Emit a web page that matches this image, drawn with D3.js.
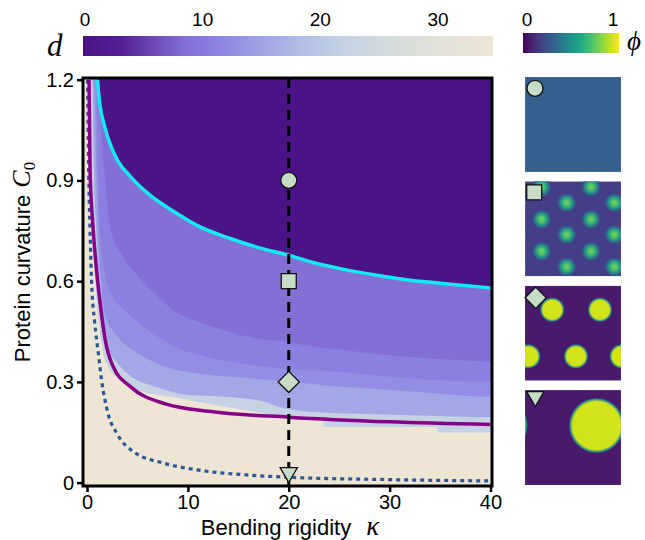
<!DOCTYPE html>
<html>
<head>
<meta charset="utf-8">
<script src="https://cdn.jsdelivr.net/npm/d3@7"></script>
<style>
  body { margin: 0; background: #fff; }
  text { font-family: "Liberation Sans", Arial, sans-serif; }
</style>
</head>
<body>
<div id="chart"></div>
<script>
// ---- data ----
var kappaTicks = [0, 10, 20, 30, 40];
var c0Ticks = [0, 0.3, 0.6, 0.9, 1.2];
var dTicks = [0, 10, 20, 30];
var phiTicks = [0, 1];

// colormap for d
var dStops  = [0, 3, 8.5, 11, 14, 18, 22, 27, 34.7];
var dColors = ["#4a1486", "#531f92", "#8470d5", "#8b80e0", "#9a9ce6", "#b0bce6", "#c4d2e4", "#d9dedb", "#eee5d5"];

// boundary lines (kappa, C0)
var cyanK = [1.0, 1.3, 1.8, 2.4, 3.1, 4.2, 5.1, 6.3, 7.6, 9, 10.9, 14.2, 17, 20, 22.5, 25, 29, 32, 35, 40];
var cyanC = [1.2, 1.12, 1.055, 1.0, 0.956, 0.915, 0.886, 0.855, 0.827, 0.8, 0.766, 0.727, 0.7, 0.677, 0.655, 0.638, 0.616, 0.603, 0.594, 0.58];

var purpleK = [0.2, 0.3, 0.55, 0.8, 1.05, 1.3, 1.8, 2.6, 4.3, 7.6, 12.5, 20, 30, 40];
var purpleC = [1.2, 0.93, 0.78, 0.68, 0.6, 0.534, 0.425, 0.345, 0.286, 0.236, 0.211, 0.195, 0.181, 0.173];

var dottedK = [0.05, 0.15, 0.3, 0.45, 0.75, 1.12, 1.42, 2.08, 2.95, 4.6, 7.6, 10.9, 15.8, 20, 30, 40];
var dottedC = [1.2, 0.95, 0.75, 0.6, 0.48, 0.385, 0.31, 0.206, 0.147, 0.092, 0.058, 0.038, 0.023, 0.016, 0.009, 0.005];

// heatmap bands: d value of each band and its upper edge (top to bottom)
var bandD = [8.5, 11, 12.5, 15.5, 22, 34.7];
var edge2K = [1.2, 1.5, 1.8, 2.3, 3.6, 5.4, 6.7, 8.7, 11, 14, 16.6, 19.6, 21.4, 25.4, 29.7, 36.7, 40];
var edge2C = [1.2, 1.0, 0.906, 0.757, 0.672, 0.603, 0.563, 0.51, 0.48, 0.45, 0.43, 0.42, 0.41, 0.395, 0.38, 0.365, 0.36];
var edge3K = [0.9, 1.1, 1.4, 1.8, 2.4, 4.07, 6.05, 8.7, 11.7, 15.3, 19.3, 25, 30, 35, 40];
var edge3C = [1.2, 0.9, 0.7, 0.62, 0.563, 0.504, 0.454, 0.405, 0.375, 0.355, 0.34, 0.33, 0.315, 0.305, 0.3];
var edge4K = [0.7, 0.9, 1.1, 1.4, 1.75, 3.07, 5.06, 7.7, 11, 14.3, 18.6, 25, 30, 35, 40];
var edge4C = [1.2, 0.95, 0.75, 0.6, 0.504, 0.434, 0.385, 0.345, 0.325, 0.315, 0.305, 0.286, 0.276, 0.265, 0.256];
var edge5K = [0.5, 0.7, 1.0, 1.2, 1.42, 2.0, 2.75, 4.4, 6.7, 10, 13.7, 17.6, 19, 22, 27, 33, 40];
var edge5C = [1.2, 0.9, 0.7, 0.55, 0.47, 0.4, 0.365, 0.315, 0.286, 0.261, 0.256, 0.241, 0.226, 0.211, 0.205, 0.2, 0.195];
var edge6K = [0.25, 0.35, 0.7, 1.0, 1.4, 2.08, 3.4, 5.4, 8.4, 12.7, 17.6, 20, 23.4, 23.5, 34.7, 34.8, 40];
var edge6C = [1.2, 0.9, 0.66, 0.53, 0.42, 0.345, 0.305, 0.271, 0.256, 0.231, 0.206, 0.19, 0.186, 0.166, 0.166, 0.149, 0.149];

// sampled states along kappa = 20
var stateNames = ["circle", "square", "diamond", "triangle"];
var stateKappa = 20;
var stateC0 = [0.9, 0.6, 0.3, 0.03];
var statePhiBg = [0.3, 0.18, 0.07, 0.07];
var statePhiSpot = [0.3, 0.8, 0.93, 0.93];
var stateSpotR = [0, 0.1, 0.13, 0.29];
var stateSpots = [
  [],
  [[0.174, 0.06], [0.688, 0.06], [-0.08, 0.225], [0.434, 0.225], [0.93, 0.225],
   [0.174, 0.4], [0.688, 0.4], [-0.08, 0.561], [0.434, 0.561], [0.93, 0.561],
   [0.174, 0.737], [0.688, 0.737], [-0.08, 0.9], [0.434, 0.9], [0.93, 0.9]],
  [[0.284, 0.253], [0.781, 0.253], [0.034, 0.744], [0.531, 0.744], [1.007, 0.744]],
  [[0.745, 0.374], [-0.26, 0.374]]
];

// ---- layout ----
var width = 645, height = 540;
var plot = {left: 83, top: 78, right: 492, bottom: 486};

var svg = d3.select("#chart").append("svg")
    .attr("width", width)
    .attr("height", height);
var defs = svg.append("defs");

var x = d3.scaleLinear().domain([-0.4, 40.15]).range([plot.left, plot.right]);
var y = d3.scaleLinear().domain([-0.01, 1.205]).range([plot.bottom, plot.top]);
var dColor = d3.scaleLinear().domain(dStops).range(dColors).interpolate(d3.interpolateRgb);

defs.append("clipPath").attr("id", "plotclip")
  .append("rect")
    .attr("x", plot.left).attr("y", plot.top)
    .attr("width", plot.right - plot.left).attr("height", plot.bottom - plot.top);

var g = svg.append("g").attr("clip-path", "url(#plotclip)");

// heatmap: d = 0 background then the bands stacked from the top
g.append("rect")
  .attr("x", plot.left).attr("y", plot.top)
  .attr("width", plot.right - plot.left).attr("height", plot.bottom - plot.top)
  .attr("fill", dColor(0));

var edges = [[cyanK, cyanC], [edge2K, edge2C], [edge3K, edge3C], [edge4K, edge4C], [edge5K, edge5C], [edge6K, edge6C]];
var bandArea = d3.area()
    .x(function(p) { return x(p[0]); })
    .y0(y(y.domain()[0]))
    .y1(function(p) { return y(p[1]); })
    .curve(d3.curveMonotoneX);

edges.forEach(function(e, i) {
  var pts = d3.zip(e[0], e[1]);
  pts.unshift([x.domain()[0], y.domain()[1]]);
  pts.push([x.domain()[1], e[1][e[1].length - 1]]);
  g.append("path")
    .attr("d", bandArea(pts))
    .attr("fill", dColor(bandD[i]));
});

// boundary lines
var line = d3.line()
    .x(function(p) { return x(p[0]); })
    .y(function(p) { return y(p[1]); })
    .curve(d3.curveMonotoneX);

g.append("path")
  .attr("d", line(d3.zip(dottedK, dottedC)))
  .attr("fill", "none").attr("stroke", "#285896")
  .attr("stroke-width", 3.2).attr("stroke-dasharray", "4,4");
g.append("path")
  .attr("d", line(d3.zip(purpleK, purpleC)))
  .attr("fill", "none").attr("stroke", "#870087").attr("stroke-width", 3.5);
g.append("path")
  .attr("d", line(d3.zip(cyanK, cyanC)))
  .attr("fill", "none").attr("stroke", "#14eaf2").attr("stroke-width", 3.5);

// dashed cut at kappa = 20
g.append("line")
  .attr("x1", x(stateKappa)).attr("x2", x(stateKappa))
  .attr("y1", y(y.domain()[1])).attr("y2", y(y.domain()[0]))
  .attr("stroke", "#000").attr("stroke-width", 3).attr("stroke-dasharray", "10,6");

// markers
var symbolTypes = [d3.symbolCircle, d3.symbolSquare, d3.symbolSquare, d3.symbolTriangle];
var symbolSizes = [201, 225, 225, 130];
var symbolRotate = [0, 0, 45, 180];
function marker(sel, i) {
  sel.attr("d", d3.symbol().type(symbolTypes[i]).size(symbolSizes[i])())
    .attr("fill", "#c6dcc6").attr("stroke", "#111").attr("stroke-width", 1.3);
}
stateNames.forEach(function(name, i) {
  svg.append("path")
    .call(marker, i)
    .attr("transform", "translate(" + x(stateKappa) + "," + y(stateC0[i]) + ") rotate(" + symbolRotate[i] + ")");
});

// axes
var yAxis = d3.axisLeft(y).tickValues(c0Ticks).tickSize(6).tickPadding(3)
    .tickFormat(function(d) { return d === 0 ? "0" : d3.format(".1f")(d); });
svg.append("g")
  .attr("transform", "translate(" + plot.left + ",0)")
  .call(yAxis)
  .call(function(a) { a.select(".domain").remove(); })
  .call(function(a) { a.selectAll(".tick line").attr("stroke-width", 2.5); })
  .call(function(a) { a.selectAll(".tick text").attr("font-family", "Liberation Sans, Arial, sans-serif").style("font-size", "20px").attr("fill", "#000"); });

var xAxis = d3.axisBottom(x).tickValues(kappaTicks).tickSize(6).tickPadding(3);
svg.append("g")
  .attr("transform", "translate(0," + plot.bottom + ")")
  .call(xAxis)
  .call(function(a) { a.select(".domain").remove(); })
  .call(function(a) { a.selectAll(".tick line").attr("stroke-width", 2.5); })
  .call(function(a) { a.selectAll(".tick text").attr("font-family", "Liberation Sans, Arial, sans-serif").style("font-size", "20px").attr("fill", "#000"); });

// frame
svg.append("rect")
  .attr("x", plot.left).attr("y", plot.top)
  .attr("width", plot.right - plot.left).attr("height", plot.bottom - plot.top)
  .attr("fill", "none").attr("stroke", "#000").attr("stroke-width", 3);

// axis labels
var xl = svg.append("text")
  .attr("x", 290).attr("y", 535)
  .attr("text-anchor", "middle")
  .style("font-size", "22px");
xl.append("tspan").text("Bending rigidity");
xl.append("tspan").attr("dx", 15)
  .style("font-family", "Liberation Serif, serif").style("font-style", "italic").style("font-size", "27px")
  .text("κ");

var yl = svg.append("text")
  .attr("transform", "translate(30,262) rotate(-90)")
  .attr("text-anchor", "middle")
  .style("font-size", "22px");
yl.append("tspan").text("Protein curvature");
yl.append("tspan").attr("dx", 7)
  .style("font-family", "Liberation Serif, serif").style("font-style", "italic").style("font-size", "26px")
  .text("C");
yl.append("tspan").attr("dy", 5)
  .style("font-family", "Liberation Serif, serif").style("font-size", "17px")
  .text("0");

// ---- colorbar for d ----
var dScale = d3.scaleLinear().domain([0, 30]).range([85, 438]);
var dBar = {x0: 83, x1: 493, y: 36, h: 20};
var dLo = dScale.invert(dBar.x0), dHi = dScale.invert(dBar.x1);
var dGrad = defs.append("linearGradient").attr("id", "dgrad")
  .attr("gradientUnits", "userSpaceOnUse")
  .attr("x1", dBar.x0).attr("x2", dBar.x1).attr("y1", 0).attr("y2", 0);
dStops.forEach(function(s, i) {
  dGrad.append("stop").attr("offset", (s - dLo) / (dHi - dLo)).attr("stop-color", dColors[i]);
});
svg.append("rect")
  .attr("x", dBar.x0).attr("y", dBar.y).attr("width", dBar.x1 - dBar.x0).attr("height", dBar.h)
  .attr("fill", "url(#dgrad)");
svg.selectAll(".dtick").data(dTicks).enter().append("text")
  .attr("x", function(d) { return dScale(d); }).attr("y", 26)
  .attr("text-anchor", "middle").style("font-size", "19px")
  .text(function(d) { return d; });
svg.append("text")
  .attr("x", 47).attr("y", 56)
  .style("font-family", "Liberation Serif, serif").style("font-style", "italic").style("font-size", "31px")
  .text("d");

// ---- colorbar for phi ----
var phiScale = d3.scaleLinear().domain([0, 1]).range([527, 613]);
var pBar = {x0: 523, x1: 619, y: 33, h: 20};
var pGrad = defs.append("linearGradient").attr("id", "pgrad")
  .attr("gradientUnits", "userSpaceOnUse")
  .attr("x1", pBar.x0).attr("x2", pBar.x1).attr("y1", 0).attr("y2", 0);
d3.range(0, 1.0001, 0.1).forEach(function(t) {
  pGrad.append("stop").attr("offset", t).attr("stop-color", d3.interpolateViridis(t));
});
svg.append("rect")
  .attr("x", pBar.x0).attr("y", pBar.y).attr("width", pBar.x1 - pBar.x0).attr("height", pBar.h)
  .attr("fill", "url(#pgrad)");
svg.selectAll(".ptick").data(phiTicks).enter().append("text")
  .attr("x", function(d) { return phiScale(d); }).attr("y", 26)
  .attr("text-anchor", "middle").style("font-size", "19px")
  .text(function(d) { return d; });
svg.append("text")
  .attr("x", 627).attr("y", 50)
  .style("font-family", "Liberation Serif, serif").style("font-style", "italic").style("font-size", "27px")
  .text("ϕ");

// ---- snapshot panels ----
var panelX = 525, panelW = 96;
var panelY = d3.scaleBand().domain(stateNames).range([77, 485]).paddingInner(0.09);
var panelH = panelY.bandwidth();
// gradient stop offsets and their phi shift for the spot profiles
var edgeStops = [[0, 0.3, 0.65, 1], [0, 0.76, 0.9, 1], [0, 0.86, 0.95, 1]];
var edgeShift = [[0, 0.08], [0, 0], [0, 0]];
var markerOffset = [[10, 11.3], [9.2, 11], [10.7, 12], [10.3, 6.5]];

stateNames.forEach(function(name, i) {
  var px = d3.scaleLinear().domain([0, 1]).range([0, panelW]);
  var py = d3.scaleLinear().domain([0, 1]).range([0, panelH]);
  var pg = svg.append("g").attr("transform", "translate(" + panelX + "," + panelY(name) + ")");
  defs.append("clipPath").attr("id", "pclip" + i)
    .append("rect").attr("width", panelW).attr("height", panelH);
  var inner = pg.append("g").attr("clip-path", "url(#pclip" + i + ")");
  inner.append("rect").attr("width", panelW).attr("height", panelH)
    .attr("fill", d3.interpolateViridis(statePhiBg[i]));

  if (stateSpots[i].length) {
    var k = Math.min(i - 1, 2);
    var st = edgeStops[k];
    var rg = defs.append("radialGradient").attr("id", "spot" + i);
    rg.append("stop").attr("offset", st[0]).attr("stop-color", d3.interpolateViridis(statePhiSpot[i] - edgeShift[k][0]));
    rg.append("stop").attr("offset", st[1]).attr("stop-color", d3.interpolateViridis(statePhiSpot[i] - edgeShift[k][1]));
    rg.append("stop").attr("offset", st[2]).attr("stop-color", d3.interpolateViridis(0.48));
    rg.append("stop").attr("offset", st[3]).attr("stop-color", d3.interpolateViridis(statePhiBg[i]));
    inner.selectAll("circle").data(stateSpots[i]).enter().append("circle")
      .attr("cx", function(s) { return px(s[0]); })
      .attr("cy", function(s) { return py(s[1]); })
      .attr("r", px(stateSpotR[i]))
      .attr("fill", "url(#spot" + i + ")");
  }
  pg.append("rect").attr("width", panelW).attr("height", panelH)
    .attr("fill", "none").attr("stroke", "#fff").attr("stroke-opacity", 0.12).attr("stroke-width", 1);

  pg.append("path")
    .call(marker, i)
    .attr("transform", "translate(" + markerOffset[i][0] + "," + markerOffset[i][1] + ") rotate(" + symbolRotate[i] + ")");
});
</script>
</body>
</html>
